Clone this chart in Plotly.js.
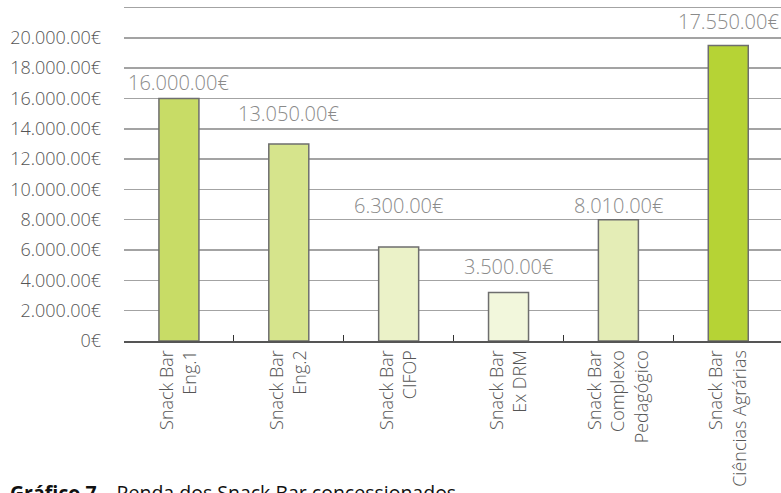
<!DOCTYPE html>
<html>
<head>
<meta charset="utf-8">
<script src="https://cdn.plot.ly/plotly-3.0.1.min.js"></script>
<style>html,body{margin:0;padding:0;background:#fff;overflow:hidden}</style>
</head>
<body>
<div id="chart" style="width:781px;height:493px"></div>
<script>
// Categories (x-axis labels)
var categories = [
  "Snack Bar<br>Eng.1",
  "Snack Bar<br>Eng.2",
  "Snack Bar<br>CIFOP",
  "Snack Bar<br>Ex DRM",
  "Snack Bar<br>Complexo<br>Pedagógico",
  "Snack Bar<br>Ciências Agrárias"
];
// Bar heights as drawn in the picture (€)
var barValues = [16000, 13000, 6200, 3200, 8000, 19500];
// Value labels as printed on the chart
var valueLabels = ["16.000.00€", "13.050.00€", "6.300.00€", "3.500.00€", "8.010.00€", "17.550.00€"];
// Level (in €) at which each printed label sits
var labelLevels = [17080, 15000, 8950, 4920, 8950, 21060];
// Bar fill colours
var barColors = ["#c8dc66", "#d6e48c", "#ebf2c8", "#f2f7dc", "#e4edb6", "#b6d335"];
// Y-axis ticks
var yTickVals = [0, 2000, 4000, 6000, 8000, 10000, 12000, 14000, 16000, 18000, 20000, 22000];
var yTickText = ["0€", "2.000.00€", "4.000.00€", "6.000.00€", "8.000.00€", "10.000.00€",
                 "12.000.00€", "14.000.00€", "16.000.00€", "18.000.00€", "20.000.00€", ""];
var caption = "<b>Gráfico 7</b> – Renda dos Snack Bar concessionados";

var FONT = "Open Sans, sans-serif";

var trace = {
  type: "bar",
  x: categories,
  y: barValues,
  marker: {color: barColors, line: {color: "#6e6e6e", width: 1.5}},
  hoverinfo: "none"
};

var annotations = categories.map(function (c, i) {
  return {
    x: c, y: labelLevels[i], xref: "x", yref: "y",
    text: valueLabels[i], showarrow: false,
    xanchor: "center", yanchor: "middle",
    font: {family: FONT, size: 20, color: "#8a8a8a", weight: 300}
  };
});
annotations.push({
  xref: "paper", yref: "paper", x: -0.1766, y: -0.405,
  xanchor: "left", yanchor: "top",
  text: caption, showarrow: false,
  font: {family: FONT, size: 19.5, color: "#111111"}
});

var layout = {
  width: 781, height: 493,
  margin: {l: 124, r: 0, t: 6, b: 152, pad: 0},
  paper_bgcolor: "#ffffff", plot_bgcolor: "#ffffff",
  showlegend: false,
  bargap: 0.636,
  font: {family: FONT, size: 18, color: "#555555"},
  xaxis: {
    type: "category",
    range: [-0.5, 5.48],
    tickson: "boundaries",
    ticks: "inside", ticklen: 6, tickwidth: 1.2, tickcolor: "#333333",
    showline: true, linecolor: "#555555", linewidth: 2,
    showgrid: false, zeroline: false,
    tickangle: -90,
    tickfont: {family: FONT, size: 18, color: "#555555", weight: 300}
  },
  yaxis: {
    range: [0, 22100],
    tickmode: "array", tickvals: yTickVals, ticktext: yTickText,
    showgrid: true, gridcolor: "#a3a3a3", gridwidth: 1.5,
    zeroline: false, showline: false, ticks: "",
    ticklabelstandoff: 22,
    tickfont: {family: FONT, size: 18, color: "#555555", weight: 300}
  },
  annotations: annotations
};

Plotly.newPlot("chart", [trace], layout, {displayModeBar: false, staticPlot: true});
</script>
</body>
</html>
